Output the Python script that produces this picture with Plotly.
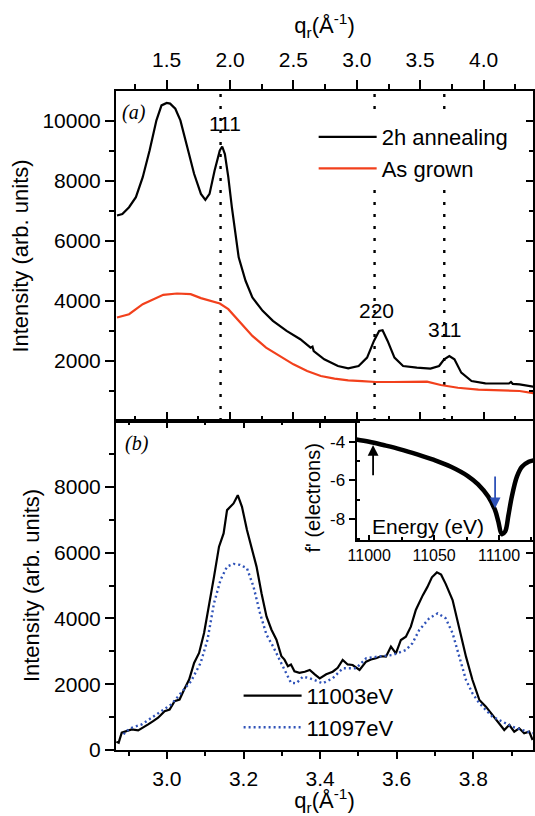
import plotly.graph_objects as go

# ---------------- data ----------------
# panel (a): 2h annealing (black) and as grown (red), x = q_r (1/A)
qa_anneal = [1.108, 1.15, 1.203, 1.257, 1.311, 1.365, 1.419, 1.459, 1.5, 1.527, 1.568, 1.608,
             1.662, 1.716, 1.77, 1.805, 1.838, 1.878, 1.919, 1.938, 1.959, 1.986, 2.014, 2.041,
             2.068, 2.122, 2.176, 2.257, 2.338, 2.446, 2.554, 2.635, 2.65, 2.66, 2.743, 2.851,
             2.932, 3.014, 3.081, 3.135, 3.176, 3.203, 3.243, 3.297, 3.365, 3.473, 3.581, 3.649,
             3.689, 3.73, 3.77, 3.824, 3.905, 4.014, 4.122, 4.2, 4.216, 4.23, 4.284, 4.405]
ia_anneal = [6850, 6900, 7126, 7460, 8128, 9020, 10022, 10520, 10600, 10580, 10410, 10020,
             9130, 8240, 7570, 7370, 7570, 8350, 9020, 9150, 8900, 8130, 7126, 6235,
             5455, 4675, 4118, 3672, 3338, 3004, 2725, 2447, 2480, 2330, 2057, 1834,
             1756, 1834, 2113, 2670, 3004, 3026, 2670, 2113, 1834, 1779, 1745, 1834,
             2057, 2168, 2057, 1612, 1333, 1255, 1244, 1250, 1300, 1240, 1222, 1133]

qa_grown = [1.108, 1.203, 1.311, 1.392, 1.473, 1.581, 1.689, 1.77, 1.851, 1.919, 1.986, 2.068,
            2.176, 2.284, 2.392, 2.5, 2.608, 2.716, 2.824, 2.932, 3.041, 3.149, 3.284, 3.419,
            3.554, 3.662, 3.797, 3.959, 4.122, 4.284, 4.405]
ia_grown = [3450, 3561, 3895, 4062, 4207, 4250, 4230, 4096, 4007, 3917, 3728, 3338,
            2837, 2447, 2169, 1890, 1667, 1500, 1411, 1355, 1333, 1300, 1300, 1311,
            1311, 1200, 1110, 1044, 1021, 1000, 920]

# Bragg reflections marked in panel (a)
reflection_q = [1.925, 3.14, 3.69]
reflection_labels = ["111", "220", "311"]
reflection_label_q = [1.959, 3.154, 3.689]
reflection_label_i = [9911, 3672, 3060]

# panel (b): 11003 eV (black) and 11097 eV (blue dotted)
qb_11003 = [2.868, 2.874, 2.882, 2.895, 2.908, 2.925, 2.938, 2.951, 2.964, 2.977, 2.994, 3.007,
            3.020, 3.033, 3.045, 3.058, 3.071, 3.084, 3.097, 3.110, 3.123, 3.136, 3.148, 3.157,
            3.174, 3.185, 3.196, 3.209, 3.221, 3.234, 3.247, 3.260, 3.273, 3.286, 3.299, 3.307,
            3.316, 3.324, 3.333, 3.346, 3.36, 3.373, 3.386, 3.399, 3.416, 3.433, 3.446, 3.459,
            3.472, 3.485, 3.503, 3.52, 3.533, 3.546, 3.559, 3.572, 3.585, 3.598, 3.611, 3.624,
            3.637, 3.650, 3.668, 3.68, 3.692, 3.705, 3.716, 3.728, 3.746, 3.763, 3.781, 3.798,
            3.816, 3.833, 3.85, 3.868, 3.881, 3.894, 3.907, 3.92, 3.933, 3.946, 3.955]
ib_11003 = [250, 222, 525, 576, 626, 596, 677, 778, 879, 980, 1182, 1232,
            1485, 1535, 1838, 2141, 2646, 2949, 3555, 4363, 5272, 6181, 6585, 7292,
            7494, 7747, 7393, 6686, 6181, 5575, 4767, 4060, 3656, 3353, 2848, 2747,
            2545, 2596, 2394, 2343, 2380, 2432, 2300, 2179, 2300, 2381, 2500, 2736,
            2600, 2584, 2432, 2685, 2750, 2787, 2850, 2837, 3141, 2938, 3344, 3445,
            3749, 4256, 4700, 4950, 5250, 5400, 5330, 5050, 4560, 3749, 2837, 2128,
            1520, 1317, 1064, 811, 608, 760, 557, 659, 507, 557, 304]

qb_11097 = [2.887, 2.892, 2.908, 2.934, 2.96, 2.985, 3.011, 3.037, 3.063, 3.088, 3.106, 3.123,
            3.140, 3.157, 3.174, 3.191, 3.209, 3.226, 3.243, 3.260, 3.277, 3.294, 3.312, 3.324,
            3.338, 3.355, 3.373, 3.39, 3.407, 3.433, 3.459, 3.494, 3.52, 3.55, 3.59, 3.624,
            3.641, 3.659, 3.685, 3.707, 3.728, 3.746, 3.763, 3.781, 3.798, 3.816, 3.833, 3.85,
            3.876, 3.902, 3.928, 3.955]
ib_11097 = [475, 560, 677, 778, 980, 1182, 1384, 1737, 2091, 2646, 3353, 4464,
            5171, 5575, 5656, 5626, 5525, 4969, 4161, 3505, 3151, 2747, 2343, 2040,
            2030, 2229, 2179, 2100, 2027, 2179, 2483, 2483, 2787, 2837, 2888, 3040,
            3243, 3648, 4003, 4155, 4003, 3547, 2837, 2128, 1723, 1419, 1216, 1013,
            862, 709, 608, 507]

# inset: f' versus energy
energy_ev = [10990.1, 11000, 11010.9, 11024, 11037, 11050, 11063, 11076, 11083.9, 11091.7,
             11096.9, 11099.5, 11102.1, 11104.7, 11107.3, 11109.9, 11113.8, 11117.7, 11122.9,
             11127]
f_prime = [-3.88, -4.0, -4.17, -4.39, -4.65, -4.94, -5.29, -5.77, -6.20, -6.83,
           -7.52, -8.12, -8.77, -8.64, -7.78, -6.83, -5.80, -5.29, -5.03, -4.96]
arrow_energies = [11003, 11097]
arrow_tail_f = [-5.8, -5.72]
arrow_head_f = [-4.17, -7.43]
arrow_colors = ["black", "#2f52b8"]

# tick labels
top_ticks = [1.5, 2.0, 2.5, 3.0, 3.5, 4.0]
top_minor = [1.25, 1.75, 2.25, 2.75, 3.25, 3.75, 4.25]
bot_ticks = [3.0, 3.2, 3.4, 3.6, 3.8]
bot_minor = [2.9, 3.1, 3.3, 3.5, 3.7, 3.9]
ya_ticks = [2000, 4000, 6000, 8000, 10000]
ya_minor = [1000, 3000, 5000, 7000, 9000]
yb_ticks = [0, 2000, 4000, 6000, 8000]
yb_minor = [1000, 3000, 5000, 7000, 9000]
inset_xticks = [11000, 11050, 11100]
inset_xminor = [11025, 11075, 11125]
inset_yticks = [-4, -6, -8]
inset_yticktext = ["-4", "-6", "-8"]
inset_yminor = [-3, -5, -7, -9]

FONT = "Liberation Sans, Arial, sans-serif"
RED = "#f2401c"
BLUE = "#2f52b8"

fig = go.Figure()

# panel (a)
fig.add_trace(go.Scatter(x=qa_anneal, y=ia_anneal, mode="lines", name="2h annealing",
                         line=dict(color="black", width=2.2), xaxis="x2", yaxis="y2",
                         legend="legend"))
fig.add_trace(go.Scatter(x=qa_grown, y=ia_grown, mode="lines", name="As grown",
                         line=dict(color=RED, width=2.2), xaxis="x2", yaxis="y2",
                         legend="legend"))
# panel (b)
fig.add_trace(go.Scatter(x=qb_11003, y=ib_11003, mode="lines", name="11003eV",
                         line=dict(color="black", width=2.2), xaxis="x", yaxis="y",
                         legend="legend2"))
fig.add_trace(go.Scatter(x=qb_11097, y=ib_11097, mode="lines", name="11097eV",
                         line=dict(color=BLUE, width=2.4, dash="2px,3px"), xaxis="x", yaxis="y",
                         legend="legend2"))
# inset
fig.add_trace(go.Scatter(x=energy_ev, y=f_prime, mode="lines", showlegend=False,
                         line=dict(color="black", width=4.5, shape="spline"),
                         xaxis="x3", yaxis="y3"))

# empty traces to activate overlay axes carrying inward mirror ticks
for xa, ya in [("x4", "y"), ("x5", "y2"), ("x", "y4"), ("x2", "y5")]:
    fig.add_trace(go.Scatter(x=[], y=[], xaxis=xa, yaxis=ya, showlegend=False,
                             hoverinfo="skip"))

shapes = []
for q in reflection_q:
    shapes.append(dict(type="line", xref="x2", yref="y2 domain", x0=q, x1=q, y0=0, y1=1,
                       line=dict(color="black", width=2.4, dash="3px,9px"), layer="below"))

annotations = []
for lab, q, i in zip(reflection_labels, reflection_label_q, reflection_label_i):
    annotations.append(dict(text=lab, x=q, y=i, xref="x2", yref="y2", showarrow=False,
                            font=dict(family=FONT, size=21, color="black")))
annotations.append(dict(text="<i>(a)</i>", x=1.243, y=10300, xref="x2", yref="y2",
                        showarrow=False, font=dict(family="Liberation Serif, serif", size=20)))
annotations.append(dict(text="<i>(b)</i>", x=2.923, y=9330, xref="x", yref="y",
                        showarrow=False, font=dict(family="Liberation Serif, serif", size=20)))
annotations.append(dict(text="Energy (eV)", x=11045, y=-8.35, xref="x3", yref="y3",
                        showarrow=False, font=dict(family=FONT, size=21, color="black")))
annotations.append(dict(text="f' (electrons)", x=0.473, y=0.382, xref="paper", yref="paper",
                        textangle=-90, showarrow=False,
                        font=dict(family=FONT, size=20, color="black")))
for e, t, h, c in zip(arrow_energies, arrow_tail_f, arrow_head_f, arrow_colors):
    annotations.append(dict(x=e, y=h, ax=e, ay=t, xref="x3", yref="y3", axref="x3", ayref="y3",
                            showarrow=True, arrowhead=2, arrowsize=1.2, arrowwidth=1.8,
                            arrowcolor=c, text=""))

tick_font = dict(family=FONT, size=21, color="black")
title_font = dict(family=FONT, size=22, color="black")
ax_common = dict(showline=True, linewidth=2, linecolor="black", showgrid=False, zeroline=False,
                 ticks="outside", tickwidth=2, tickcolor="black", tickfont=tick_font,
                 automargin=False)
ov_common = dict(ticks="inside", tickwidth=2, tickcolor="black", showticklabels=False,
                 showline=False, showgrid=False, zeroline=False, automargin=False)

fig.update_layout(
    width=535, height=816,
    margin=dict(l=116, r=2, t=91, b=66, autoexpand=False),
    paper_bgcolor="white", plot_bgcolor="white",
    font=dict(family=FONT, color="black"),
    showlegend=True,
    xaxis=dict(**ax_common, domain=[0, 1], anchor="y", range=[2.867, 3.956],
               tickvals=bot_ticks, tickformat=".1f", ticklen=7, mirror=True,
               ticklabelstandoff=2,
               minor=dict(tickvals=bot_minor, ticks="outside", ticklen=4, tickwidth=2,
                          tickcolor="black"),
               title=dict(text="q<sub>r</sub>(Å<sup>-1</sup>)", font=title_font, standoff=8)),
    yaxis=dict(**ax_common, domain=[0, 0.4992], anchor="x", range=[0, 10000],
               tickvals=yb_ticks, tickformat="d", ticklen=9, mirror=True,
               minor=dict(tickvals=yb_minor, ticks="outside", ticklen=5, tickwidth=2,
                          tickcolor="black"),
               title=dict(text="Intensity (arb. units)", font=title_font, standoff=8)),
    xaxis2=dict(**ax_common, domain=[0, 1], anchor="y2", side="top", range=[1.1, 4.39],
                tickvals=top_ticks, tickformat=".1f", ticklen=9, mirror=True,
                ticklabelstandoff=5,
                minor=dict(tickvals=top_minor, ticks="outside", ticklen=5, tickwidth=2,
                           tickcolor="black"),
                title=dict(text="q<sub>r</sub>(Å<sup>-1</sup>)", font=title_font, standoff=8)),
    yaxis2=dict(**ax_common, domain=[0.4992, 1], anchor="x2", range=[0, 11000],
                tickvals=ya_ticks, tickformat="d", ticklen=9, mirror=True,
                minor=dict(tickvals=ya_minor, ticks="outside", ticklen=5, tickwidth=2,
                           tickcolor="black"),
                title=dict(text="Intensity (arb. units)", font=title_font, standoff=8)),
    # overlay axes: inward ticks on shared boundary and right sides
    xaxis4=dict(**ov_common, overlaying="x", anchor="y", side="top", range=[2.867, 3.956],
                tickvals=bot_ticks, ticklen=7,
                minor=dict(tickvals=bot_minor, ticks="inside", ticklen=4, tickwidth=2,
                           tickcolor="black")),
    xaxis5=dict(**ov_common, overlaying="x2", anchor="y2", side="bottom", range=[1.1, 4.39],
                tickvals=top_ticks, ticklen=9,
                minor=dict(tickvals=top_minor, ticks="inside", ticklen=5, tickwidth=2,
                           tickcolor="black")),
    yaxis4=dict(**ov_common, overlaying="y", anchor="x", side="right", range=[0, 10000],
                tickvals=yb_ticks, ticklen=7,
                minor=dict(tickvals=yb_minor, ticks="inside", ticklen=4, tickwidth=2,
                           tickcolor="black")),
    yaxis5=dict(**ov_common, overlaying="y2", anchor="x2", side="right", range=[0, 11000],
                tickvals=ya_ticks, ticklen=7,
                minor=dict(tickvals=ya_minor, ticks="inside", ticklen=4, tickwidth=2,
                           tickcolor="black")),
    # inset
    xaxis3=dict(showline=True, linewidth=2, linecolor="black", showgrid=False, zeroline=False,
                automargin=False,
                domain=[0.577, 1.0], anchor="y3", range=[10990.3, 11126.2],
                tickvals=inset_xticks, tickformat="d", ticks="inside", ticklen=5,
                tickwidth=1.5, tickcolor="black",
                tickfont=dict(family=FONT, size=16, color="black"),
                minor=dict(tickvals=inset_xminor, ticks="inside", ticklen=3, tickwidth=1.5,
                           tickcolor="black")),
    yaxis3=dict(showline=True, linewidth=2, linecolor="black", showgrid=False, zeroline=False,
                automargin=False,
                domain=[0.3187, 0.4992], anchor="x3", range=[-9.07, -2.93],
                tickvals=inset_yticks, ticktext=inset_yticktext, ticks="outside", ticklen=6,
                tickwidth=1.5, tickcolor="black",
                tickfont=dict(family=FONT, size=17, color="black"),
                minor=dict(tickvals=inset_yminor, ticks="inside", ticklen=3, tickwidth=1.5,
                           tickcolor="black")),
    legend=dict(x=0.474, y=0.962, xanchor="left", yanchor="top", bgcolor="white",
                borderwidth=0, font=dict(family=FONT, size=22, color="black"),
                tracegroupgap=0, itemwidth=58),
    legend2=dict(x=0.294, y=0.114, xanchor="left", yanchor="top",
                 bgcolor="rgba(255,255,255,0)", borderwidth=0,
                 font=dict(family=FONT, size=22, color="black"),
                 tracegroupgap=0, itemwidth=58),
    shapes=shapes,
    annotations=annotations,
)

fig.write_html("out.html", config={"displayModeBar": False},
               post_script="document.body.style.margin='0px';document.body.style.padding='0px';")
